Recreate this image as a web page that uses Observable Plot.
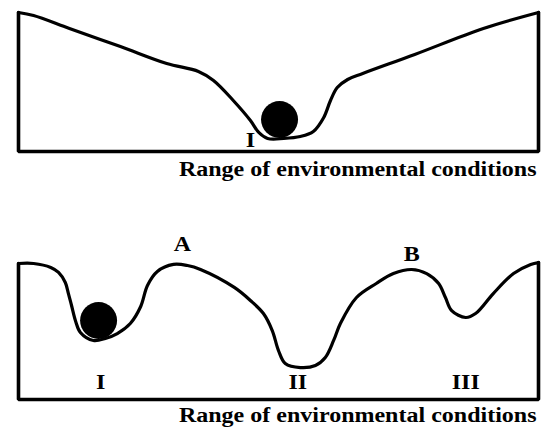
<!DOCTYPE html>
<html><head><meta charset="utf-8">
<script src="https://cdn.jsdelivr.net/npm/d3@7"></script>
<script src="https://cdn.jsdelivr.net/npm/@observablehq/plot@0.6"></script>
<style>html,body{margin:0;padding:0;background:#fff} svg{display:block}</style>
</head><body><div id="chart"></div>
<script>
// Top landscape: environmental condition (0-100) vs. landscape level (0-100)
const topCondition = [0, 2.9, 9.8, 19.6, 28.5, 34.6, 37.5, 41.3, 44.6, 46.2, 47.9, 51, 54.2, 56.7, 58.7, 60, 61.3, 63.3, 66.2, 76.2, 89.4, 100];
const topLevel     = [100, 97.8, 88.5, 75.5, 63.3, 57.6, 51.1, 36.7, 22.3, 13.7, 9.4, 9.4, 10.8, 14.4, 24.5, 36.7, 46, 51.8, 56.1, 69.8, 88.5, 100];
// Bottom landscape
const bottomCondition = [0, 2.9, 6.2, 7.7, 9, 9.6, 10.2, 11, 11.9, 14.4, 16.7, 19, 21.5, 23.5, 24.8, 26.7, 29.8, 32.5, 35, 41.5, 44.6, 47.1, 48.8, 50, 51.3, 54.2, 57.1, 59, 60.6, 61.9, 65, 68.8, 72.1, 75.6, 78.5, 80.8, 82.1, 83.3, 86, 87.9, 91.3, 95.2, 98.5, 100];
const bottomLevel     = [100, 100, 97.1, 93.4, 86, 77.9, 69.1, 57.4, 49.3, 43.4, 44.9, 48.5, 55.9, 68.4, 83.8, 94.1, 99.3, 98.5, 95.6, 82.4, 72.8, 63.2, 50.7, 36, 26.5, 23.5, 25, 30.9, 43.4, 55.9, 75, 85.3, 92.6, 95.6, 92.6, 85.3, 75, 65.4, 60.3, 63.2, 77.9, 92.6, 99.3, 100.7];
// Balls (one per panel)
const ballCondition = [50.2, 15.4];
const ballLevel = [23, 58.1];
// Labels
const topLabelText = ["I"];
const topLabelX = [44.6];
const topLabelY = [8];
const bottomLabelText = ["A", "B", "I", "II", "III"];
const bottomLabelX = [31.5, 75.6, 15.8, 53.7, 86];
const bottomLabelY = [114, 106.6, 12.5, 12.5, 12.5];
const axisTitle = "Range of environmental conditions";

const FONT = "Liberation Serif, Times New Roman, serif";

function panel(cond, level, ballIdx, labText, labX, labY, height, marginTop, marginBottom, titleDy) {
  const curve = cond.map((c, i) => ({x: c, y: level[i]}));
  const frame = [
    {x: cond[0], y: level[0]},
    {x: cond[0], y: 0},
    {x: cond[cond.length - 1], y: 0},
    {x: cond[cond.length - 1], y: level[level.length - 1]}
  ];
  const labels = labText.map((t, i) => ({t, x: labX[i], y: labY[i]}));
  const ball = [{x: ballCondition[ballIdx], y: ballLevel[ballIdx]}];
  return Plot.plot({
    width: 543,
    height,
    marginLeft: 18,
    marginRight: 5,
    marginTop,
    marginBottom,
    x: {domain: [0, 100], axis: null},
    y: {domain: [0, 100], axis: null},
    style: {background: "white", fontFamily: FONT},
    marks: [
      Plot.line(frame, {x: "x", y: "y", stroke: "black", strokeWidth: 3.6, strokeLinejoin: "miter"}),
      Plot.line(curve, {x: "x", y: "y", curve: "catmull-rom", stroke: "black", strokeWidth: 3.2, strokeLinejoin: "round"}),
      Plot.dot(ball, {x: "x", y: "y", r: 18.5, fill: "black", stroke: "none"}),
      Plot.text(labels, {x: "x", y: "y", text: "t", fontSize: 20, fontWeight: "bold", fontFamily: FONT, fill: "black", lineAnchor: "middle"}),
      Plot.text([axisTitle], {frameAnchor: "bottom-right", dx: -2, dy: titleDy, fontSize: 20, fontWeight: "bold", fontFamily: FONT, fill: "black", textAnchor: "end", lineAnchor: "middle"})
    ]
  });
}

const root = document.getElementById("chart");
root.appendChild(panel(topCondition, topLevel, 0, topLabelText, topLabelX, topLabelY, 220, 12, 69, 17.6));
root.appendChild(panel(bottomCondition, bottomLevel, 1, bottomLabelText, bottomLabelX, bottomLabelY, 211, 43, 32, 15.6));

// the reference type is horizontally stretched
d3.select(root).selectAll("text").each(function() {
  const len = this.getComputedTextLength();
  if (len > 0) {
    this.setAttribute("textLength", (len * 1.2).toFixed(1));
    this.setAttribute("lengthAdjust", "spacingAndGlyphs");
  }
});
</script>
</body></html>
